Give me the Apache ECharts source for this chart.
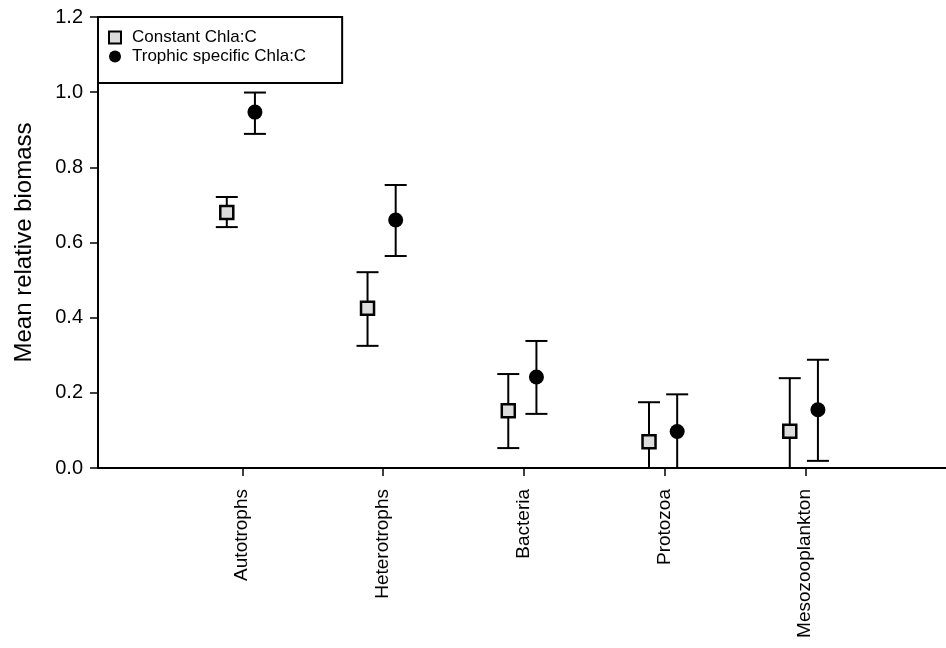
<!DOCTYPE html>
<html>
<head>
<meta charset="utf-8">
<script src="https://cdn.jsdelivr.net/npm/echarts@6/dist/echarts.min.js"></script>
<style>html,body{margin:0;padding:0;background:#fff}#c{width:946px;height:648px}</style>
</head>
<body>
<div id="c"></div>
<script>
const categories = ['Autotrophs', 'Heterotrophs', 'Bacteria', 'Protozoa', 'Mesozooplankton'];
const constantMean = [0.68, 0.425, 0.152, 0.07, 0.098];
const constantLow  = [0.641, 0.325, 0.053, 0.0, 0.0];
const constantHigh = [0.721, 0.521, 0.25, 0.175, 0.239];
const trophicMean = [0.947, 0.66, 0.242, 0.097, 0.155];
const trophicLow  = [0.889, 0.564, 0.144, 0.0, 0.019];
const trophicHigh = [0.999, 0.753, 0.338, 0.196, 0.288];
const yTicks = [0, 0.2, 0.4, 0.6, 0.8, 1.0, 1.2];
const seriesNames = ['Constant Chla:C', 'Trophic specific Chla:C'];

const offC = -0.11, offT = 0.09;
const catPos = categories.map((c, i) => i + 1);
const FONT = 'Liberation Sans, Arial, sans-serif';

function errData(low, high, off) {
  return catPos.map((p, i) => [p + off, low[i], high[i]]);
}
function ptData(mean, off) {
  return catPos.map((p, i) => [p + off, mean[i]]);
}
function renderErr(params, api) {
  const x = api.value(0);
  const lo = api.coord([x, api.value(1)]);
  const hi = api.coord([x, api.value(2)]);
  const hw = 11;
  const st = { stroke: '#000', lineWidth: 2 };
  return {
    type: 'group',
    children: [
      { type: 'line', shape: { x1: lo[0], y1: lo[1], x2: hi[0], y2: hi[1] }, style: st },
      { type: 'line', shape: { x1: hi[0] - hw, y1: hi[1], x2: hi[0] + hw, y2: hi[1] }, style: st },
      { type: 'line', shape: { x1: lo[0] - hw, y1: lo[1], x2: lo[0] + hw, y2: lo[1] }, style: st }
    ]
  };
}

const chart = echarts.init(document.getElementById('c'), null, { renderer: 'canvas' });
chart.setOption({
  animation: false,
  backgroundColor: '#fff',
  grid: { left: 98, top: 17, right: -3, bottom: 180, containLabel: false },
  legend: {
    orient: 'vertical',
    left: 98, top: 17,
    data: seriesNames,
    borderColor: '#000', borderWidth: 2, borderRadius: 0,
    padding: [12, 36, 18, 10],
    itemGap: 2,
    itemWidth: 12, itemHeight: 12,
    textStyle: { fontFamily: FONT, fontSize: 17, color: '#000', padding: [0, 0, 0, 6] }
  },
  xAxis: {
    type: 'value', min: -0.025, max: 6,
    splitLine: { show: false },
    axisLine: { onZero: false, lineStyle: { color: '#000', width: 2 } },
    axisTick: { show: true, length: 8, lineStyle: { color: '#000', width: 1.5 }, customValues: catPos },
    axisLabel: {
      customValues: catPos,
      rotate: 90, margin: 21,
      fontFamily: FONT, fontSize: 19, color: '#000',
      formatter: v => categories[Math.round(v) - 1] || ''
    }
  },
  yAxis: {
    type: 'value', min: 0, max: 1.2, interval: 0.2,
    name: 'Mean relative biomass', nameLocation: 'middle', nameGap: 62, nameRotate: 90,
    nameTextStyle: { fontFamily: FONT, fontSize: 24, color: '#000' },
    splitLine: { show: false },
    axisLine: { show: true, onZero: false, lineStyle: { color: '#000', width: 2 } },
    axisTick: { show: true, length: 8, lineStyle: { color: '#000', width: 1.5 } },
    axisLabel: {
      margin: 15,
      fontFamily: FONT, fontSize: 20, color: '#000',
      formatter: v => yTicks.some(t => Math.abs(t - v) < 1e-9) ? v.toFixed(1) : ''
    }
  },
  series: [
    { type: 'custom', name: 'errC', renderItem: renderErr, data: errData(constantLow, constantHigh, offC), z: 2, silent: true },
    { type: 'custom', name: 'errT', renderItem: renderErr, data: errData(trophicLow, trophicHigh, offT), z: 2, silent: true },
    {
      type: 'scatter', name: seriesNames[0], data: ptData(constantMean, offC),
      symbol: 'rect', symbolSize: 13, z: 5,
      itemStyle: { color: '#dcdcdc', borderColor: '#000', borderWidth: 2.5, opacity: 1 }
    },
    {
      type: 'scatter', name: seriesNames[1], data: ptData(trophicMean, offT),
      symbol: 'circle', symbolSize: 15, z: 5,
      itemStyle: { color: '#000', opacity: 1 }
    }
  ]
});
</script>
</body>
</html>
